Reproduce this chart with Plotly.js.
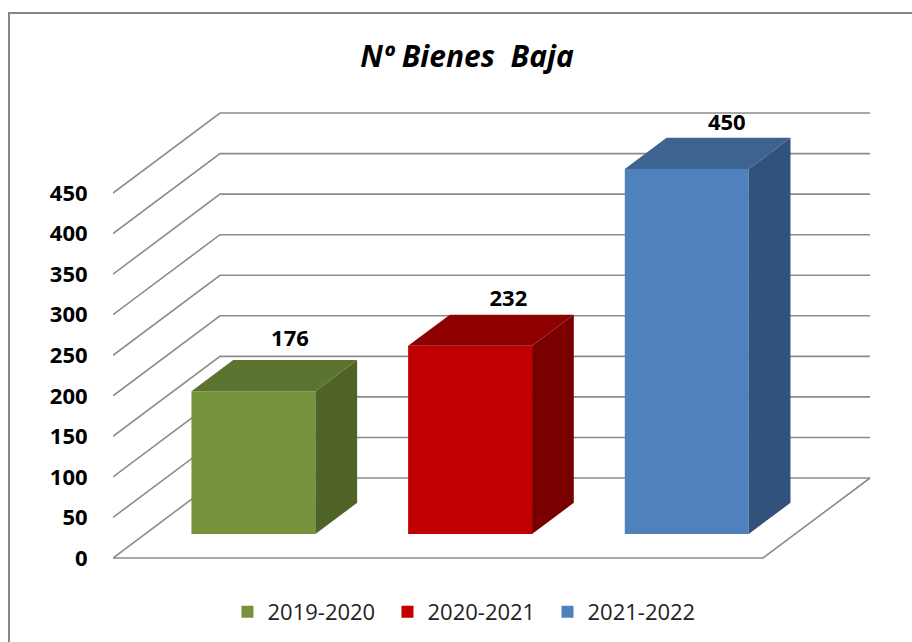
<!DOCTYPE html>
<html>
<head>
<meta charset="utf-8">
<script src="https://cdn.plot.ly/plotly-3.0.1.min.js"></script>
<style>html,body{margin:0;padding:0;background:#fff}#chart{width:912px;height:642px}</style>
</head>
<body>
<div id="chart"></div>
<script>
// --- data ---
const periods = ['2019-2020', '2020-2021', '2021-2022'];
const values = [176, 232, 450];
const axisTicks = [0, 50, 100, 150, 200, 250, 300, 350, 400, 450];

// --- styles ---
const frontColors = ['#77933C', '#C00000', '#4F81BD'];
const sideColors = ['#4F6228', '#7A0000', '#31527A'];
const topColors = ['#5D7430', '#8F0000', '#3D6490'];
const gridColor = '#8C8C8C';
const fontName = '"Open Sans", "Noto Sans", sans-serif';

// --- oblique projection (x in category units, y in value units) ---
const depthX = 0.4938, depthY = 98.64;
const project = (x, v, d) => [x + depthX * d, v + depthY * d];
const barFront = 0.3, barBack = 0.69, barWidth = 0.572;
const xMin = -0.5, xMax = 2.5;
const labelShift = [24, 17, 17];
const labelNudge = [-0.024, -0.016, -0.008];

function poly(points, color) {
  return {
    type: 'scatter', mode: 'lines', fill: 'toself', fillcolor: color,
    x: points.map(p => p[0]), y: points.map(p => p[1]),
    line: {width: 0, color: color}, showlegend: false, hoverinfo: 'skip'
  };
}

const traces = [];
periods.forEach((name, i) => {
  traces.push({
    type: 'bar', name: name,
    x: [i + depthX * barFront], y: [values[i]], base: [depthY * barFront],
    width: [barWidth], marker: {color: frontColors[i], line: {width: 0}},
    hoverinfo: 'skip'
  });
});
periods.forEach((name, i) => {
  const l = i - barWidth / 2, r = i + barWidth / 2, v = values[i];
  traces.push(poly([project(r, 0, barFront), project(r, 0, barBack), project(r, v, barBack), project(r, v, barFront), project(r, 0, barFront)], sideColors[i]));
  traces.push(poly([project(l, v, barFront), project(r, v, barFront), project(r, v, barBack), project(l, v, barBack), project(l, v, barFront)], topColors[i]));
});
traces.push({
  type: 'scatter', mode: 'text', showlegend: false, hoverinfo: 'skip',
  x: values.map((v, i) => project(i, v, barBack)[0] + labelNudge[i]),
  y: values.map((v, i) => project(i, v, barBack)[1] + labelShift[i]),
  text: values.map(String),
  textposition: 'middle center', cliponaxis: false,
  textfont: {family: fontName, size: 22, weight: 700, color: '#000'}
});

// gridlines are shapes so that they sit behind the bars
const shapes = axisTicks.map(t => {
  const a = project(xMin, t, 0), b = project(xMin, t, 1), c = project(xMax, t, 1);
  return {type: 'path', layer: 'below', xref: 'x', yref: 'y',
    path: `M${a[0]},${a[1]} L${b[0]},${b[1]} L${c[0]},${c[1]}`,
    line: {color: gridColor, width: 1.6}};
});
const f0 = project(xMin, 0, 0), f1 = project(xMax, 0, 0), f2 = project(xMax, 0, 1);
shapes.push({type: 'path', layer: 'below', xref: 'x', yref: 'y',
  path: `M${f0[0]},${f0[1]} L${f1[0]},${f1[1]} L${f2[0]},${f2[1]}`,
  line: {color: gridColor, width: 1.6}});
// chart frame (left and top edges)
shapes.push({type: 'path', layer: 'below', xref: 'paper', yref: 'paper',
  path: 'M-0.1370,-0.19 L-0.1370,1.2156 L1.06,1.2156',
  line: {color: '#868686', width: 2}});

const layout = {
  width: 912, height: 642, paper_bgcolor: '#fff', plot_bgcolor: 'rgba(0,0,0,0)',
  margin: {l: 113, r: 40, t: 110, b: 82},
  barmode: 'overlay',
  title: {text: 'Nº Bienes  Baja', x: 467 / 912, y: 1 - 56 / 642, xref: 'container', yref: 'container',
    xanchor: 'center', yanchor: 'middle',
    font: {family: fontName, size: 30, weight: 700, style: 'italic', color: '#000'}},
  xaxis: {range: [-0.5, -0.5 + 759 / 216.67], visible: false, fixedrange: true},
  yaxis: {range: [-2 / 0.811, 448 / 0.811], tickmode: 'array', tickvals: axisTicks, ticktext: axisTicks.map(String),
    showgrid: false, zeroline: false, showline: false, ticks: 'outside', ticklen: 20, tickcolor: 'rgba(0,0,0,0)',
    tickfont: {family: fontName, size: 22, weight: 700, color: '#000'}, fixedrange: true},
  legend: {orientation: 'h', x: 0.5126, xanchor: 'center', xref: 'container', y: 1 - 612 / 642, yref: 'container', yanchor: 'middle',
    font: {family: fontName, size: 22, color: '#222'}, itemwidth: 30, entrywidth: 115, entrywidthmode: 'pixels', traceorder: 'normal'},
  shapes: shapes, showlegend: true
};
Plotly.newPlot('chart', traces, layout, {displayModeBar: false, staticPlot: true});
</script>
</body>
</html>
